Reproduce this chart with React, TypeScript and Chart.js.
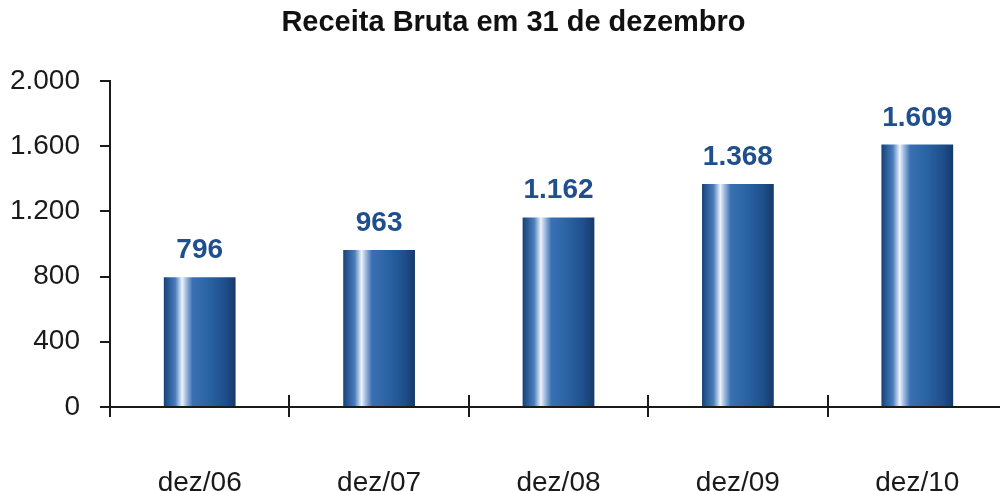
import React, { useEffect, useRef } from "react";
import { Chart, registerables } from "chart.js";

Chart.register(...registerables);

const titleText = "Receita Bruta em 31 de dezembro";
const categories = ["dez/06", "dez/07", "dez/08", "dez/09", "dez/10"];
const receitaBruta = [796, 963, 1162, 1368, 1609];
const yTicks = [0, 400, 800, 1200, 1600, 2000];

const FONT = "'Liberation Sans', Arial, sans-serif";
const fmt = (v: number) => String(Math.round(v)).replace(/\B(?=(\d{3})+(?!\d))/g, ".");

const BAR_PCT = 0.4;

const barGradient = (ctx: any) => {
  const chart = ctx.chart;
  const area = chart.chartArea;
  if (!area) return "#2a62a2";
  const xs = chart.scales.x;
  const cx = xs.getPixelForValue(ctx.dataIndex);
  const w = ((xs.right - xs.left) / categories.length) * BAR_PCT;
  const g = chart.ctx.createLinearGradient(cx - w / 2, 0, cx + w / 2, 0);
  g.addColorStop(0, "#17406f");
  g.addColorStop(0.04, "#22518c");
  g.addColorStop(0.16, "#4a7dbb");
  g.addColorStop(0.255, "#eef3fb");
  g.addColorStop(0.31, "#a3bde0");
  g.addColorStop(0.4, "#3a70b1");
  g.addColorStop(0.6, "#2b65a6");
  g.addColorStop(0.85, "#1f4f8c");
  g.addColorStop(1, "#153a69");
  return g;
};

const crossTicks = {
  id: "crossTicks",
  afterDraw(chart: any) {
    const xs = chart.scales.x;
    const c = chart.ctx;
    const n = categories.length;
    const bottom = chart.chartArea.bottom;
    c.save();
    c.strokeStyle = "#1a1a1a";
    c.lineWidth = 2;
    for (let i = 0; i <= n; i++) {
      const x = Math.round(xs.left + (i * (xs.right - xs.left)) / n);
      c.beginPath();
      c.moveTo(x, bottom - 12);
      c.lineTo(x, bottom + 10);
      c.stroke();
    }
    c.restore();
  },
};

const dataLabels = {
  id: "dataLabels",
  afterDatasetsDraw(chart: any) {
    const c = chart.ctx;
    const meta = chart.getDatasetMeta(0);
    c.save();
    c.fillStyle = "#1f4f8c";
    c.font = `bold 28px ${FONT}`;
    c.textAlign = "center";
    c.textBaseline = "alphabetic";
    meta.data.forEach((bar: any, i: number) => {
      c.fillText(fmt(receitaBruta[i]), bar.x, bar.y - 19);
    });
    c.restore();
  },
};

export default function App() {
  const ref = useRef<HTMLCanvasElement>(null);
  useEffect(() => {
    if (!ref.current) return;
    const chart = new Chart(ref.current, {
      type: "bar",
      data: {
        labels: categories,
        datasets: [
          {
            data: receitaBruta,
            backgroundColor: barGradient,
            borderWidth: 0,
            barPercentage: BAR_PCT,
            categoryPercentage: 1,
          },
        ],
      },
      options: {
        responsive: false,
        animation: false,
        layout: { padding: 0 },
        plugins: {
          legend: { display: false },
          tooltip: { enabled: false },
          title: {
            display: true,
            text: titleText,
            color: "#111111",
            font: { family: FONT, size: 29, weight: "bold", lineHeight: 1.2 },
            padding: { top: 6, bottom: 40 },
          },
        },
        scales: {
          x: {
            grid: { display: false },
            border: { display: true, color: "#1a1a1a", width: 2 },
            ticks: {
              color: "#1a1a1a",
              font: { family: FONT, size: 28 },
              padding: 51,
              maxRotation: 0,
            },
            afterFit: (s: any) => {
              s.height = 84;
            },
          },
          y: {
            min: 0,
            max: 2000,
            afterBuildTicks: (s: any) => {
              s.ticks = yTicks.map((v) => ({ value: v }));
            },
            grid: {
              display: true,
              drawOnChartArea: false,
              drawTicks: true,
              tickLength: 10,
              color: "#1a1a1a",
              lineWidth: 2,
            },
            border: { display: true, color: "#1a1a1a", width: 2 },
            ticks: {
              color: "#1a1a1a",
              font: { family: FONT, size: 28 },
              padding: 20,
              callback: (v: any) => fmt(Number(v)),
            },
            afterFit: (s: any) => {
              s.width = 110;
            },
          },
          y2: {
            position: "right",
            display: true,
            grid: { display: false },
            border: { display: false },
            ticks: { display: false },
            afterFit: (s: any) => {
              s.width = 20;
            },
          },
        },
      },
      plugins: [crossTicks, dataLabels],
    });
    return () => chart.destroy();
  }, []);

  return (
    <div
      style={{
        position: "fixed",
        left: 0,
        top: 0,
        width: 1000,
        height: 491,
        overflow: "hidden",
        background: "#ffffff",
      }}
    >
      <canvas ref={ref} width={1027} height={491} style={{ width: 1027, height: 491, display: "block" }} />
    </div>
  );
}
